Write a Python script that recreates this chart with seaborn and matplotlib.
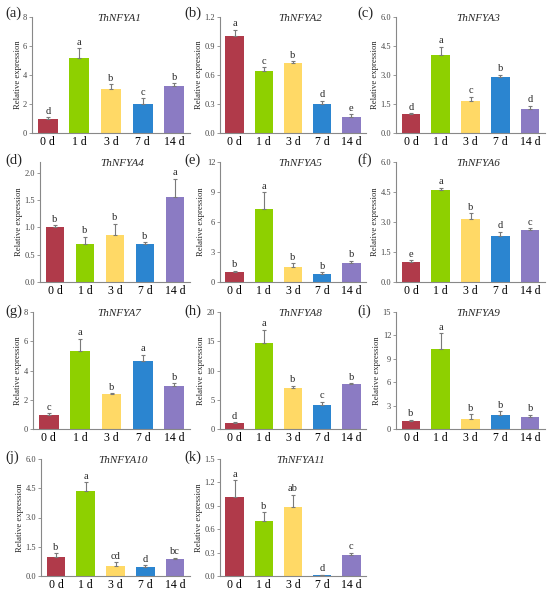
import numpy as np
import matplotlib
matplotlib.use("Agg")
import matplotlib.pyplot as plt
import seaborn as sns

# === Data ===
days = ["0 d", "1 d", "3 d", "7 d", "14 d"]
colors = ["#B03A4A", "#8ED000", "#FFD966", "#2B85D0", "#8B7BC3"]
genes = ["ThNFYA1", "ThNFYA2", "ThNFYA3", "ThNFYA4", "ThNFYA5", "ThNFYA6",
         "ThNFYA7", "ThNFYA8", "ThNFYA9", "ThNFYA10", "ThNFYA11"]
panel_tags = ["(a)", "(b)", "(c)", "(d)", "(e)", "(f)", "(g)", "(h)", "(i)", "(j)", "(k)"]

means = [
    [1.00, 5.15, 3.05, 2.02, 3.21],
    [1.00, 0.64, 0.72, 0.305, 0.168],
    [0.98, 4.02, 1.66, 2.92, 1.25],
    [1.00, 0.69, 0.86, 0.70, 1.56],
    [0.96, 7.25, 1.47, 0.79, 1.88],
    [1.00, 4.59, 3.17, 2.29, 2.60],
    [0.98, 5.33, 2.36, 4.66, 2.95],
    [0.97, 14.65, 7.00, 4.15, 7.67],
    [0.99, 10.30, 1.24, 1.84, 1.50],
    [0.99, 4.34, 0.53, 0.45, 0.87],
    [1.01, 0.705, 0.88, 0.01, 0.27],
]
errors = [
    [0.08, 0.68, 0.32, 0.38, 0.23],
    [0.07, 0.04, 0.02, 0.03, 0.025],
    [0.05, 0.45, 0.22, 0.09, 0.16],
    [0.04, 0.14, 0.21, 0.03, 0.33],
    [0.15, 1.75, 0.42, 0.17, 0.27],
    [0.08, 0.13, 0.28, 0.23, 0.10],
    [0.12, 0.85, 0.10, 0.42, 0.18],
    [0.18, 2.30, 0.40, 0.50, 0.18],
    [0.22, 2.00, 0.68, 0.43, 0.35],
    [0.17, 0.48, 0.17, 0.09, 0.07],
    [0.22, 0.11, 0.16, 0.005, 0.03],
]
letters = [
    ["d", "a", "b", "c", "b"],
    ["a", "c", "b", "d", "e"],
    ["d", "a", "c", "b", "d"],
    ["b", "b", "b", "b", "a"],
    ["b", "a", "b", "b", "b"],
    ["e", "a", "b", "d", "c"],
    ["c", "a", "b", "a", "b"],
    ["d", "a", "b", "c", "b"],
    ["b", "a", "b", "b", "b"],
    ["b", "a", "cd", "d", "bc"],
    ["a", "b", "ab", "d", "c"],
]
y_top = [8, 1.2, 6, 2.2, 12, 6, 8, 20, 15, 6, 1.5]
tick_max = [8, 1.2, 6, 2.0, 12, 6, 8, 20, 15, 6, 1.5]
tick_step = [2, 0.3, 1.5, 0.5, 3, 1.5, 2, 5, 3, 1.5, 0.3]
decimal_ticks = [False, True, True, True, False, True, False, False, False, True, True]

# === Style ===
sns.set_style("white")
plt.rcParams["font.family"] = ["Liberation Serif", "DejaVu Serif"]

W, H = 550, 592
fig = plt.figure(figsize=(W / 100, H / 100), dpi=100)

# pixel layout (left spine per panel, right edge per column, row top/bottom)
lefts = [32, 220, 396, 40, 220, 396, 33, 220, 396, 41, 220]
rights = [190, 366, 545]
row_top = [17, 162, 312, 459]
row_bot = [133, 282, 429, 576]
tag_x = [5, 184, 357]
tag_y = [13, 160, 311, 457]

for i, gene in enumerate(genes):
    row, col = divmod(i, 3)
    l = lefts[i]
    ax = fig.add_axes([l / W, 1 - row_bot[row] / H,
                       (rights[col] - l) / W, (row_bot[row] - row_top[row]) / H])

    sns.barplot(x=days, y=means[i], hue=days, palette=colors, legend=False,
                width=0.63, saturation=1, linewidth=0, ax=ax)
    xs = np.arange(len(days))
    ax.errorbar(xs, means[i], yerr=[np.zeros(5), errors[i]], fmt="none",
                ecolor="#7a7a7a", elinewidth=0.8, capsize=1.5, capthick=0.8)

    off = y_top[i] * 0.012
    for x, m, e, s in zip(xs, means[i], errors[i], letters[i]):
        ax.text(x, m + e + off, s, ha="center", va="bottom", fontsize=7.5)

    ax.set_xlim(-0.5, 4.5)
    ax.set_ylim(0, y_top[i])
    ticks = np.arange(0, tick_max[i] + 1e-9, tick_step[i])
    ax.set_yticks(ticks)
    if decimal_ticks[i]:
        ax.set_yticklabels([f"{t:.1f}" for t in ticks])
    else:
        ax.set_yticklabels([f"{t:.0f}" for t in ticks])

    ax.tick_params(axis="y", length=2, width=0.6, colors="#888888",
                   labelcolor="#444444", labelsize=6, pad=1.5, direction="out", left=True)
    ax.tick_params(axis="x", length=0, labelsize=8.5, pad=2, labelcolor="black")
    for side in ["top", "right"]:
        ax.spines[side].set_visible(False)
    for side in ["left", "bottom"]:
        ax.spines[side].set_color("#888888")
        ax.spines[side].set_linewidth(0.8)

    ax.set_xlabel("")
    ax.set_ylabel("Relative expression", fontsize=6.2, labelpad=1)
    ax.text(0.55, 0.985, gene, transform=ax.transAxes, ha="center", va="center",
            fontsize=8, style="italic")

    fig.text(tag_x[col] / W, 1 - tag_y[row] / H, panel_tags[i],
             ha="left", va="center", fontsize=10.5)

plt.savefig("out.png", dpi=100)
